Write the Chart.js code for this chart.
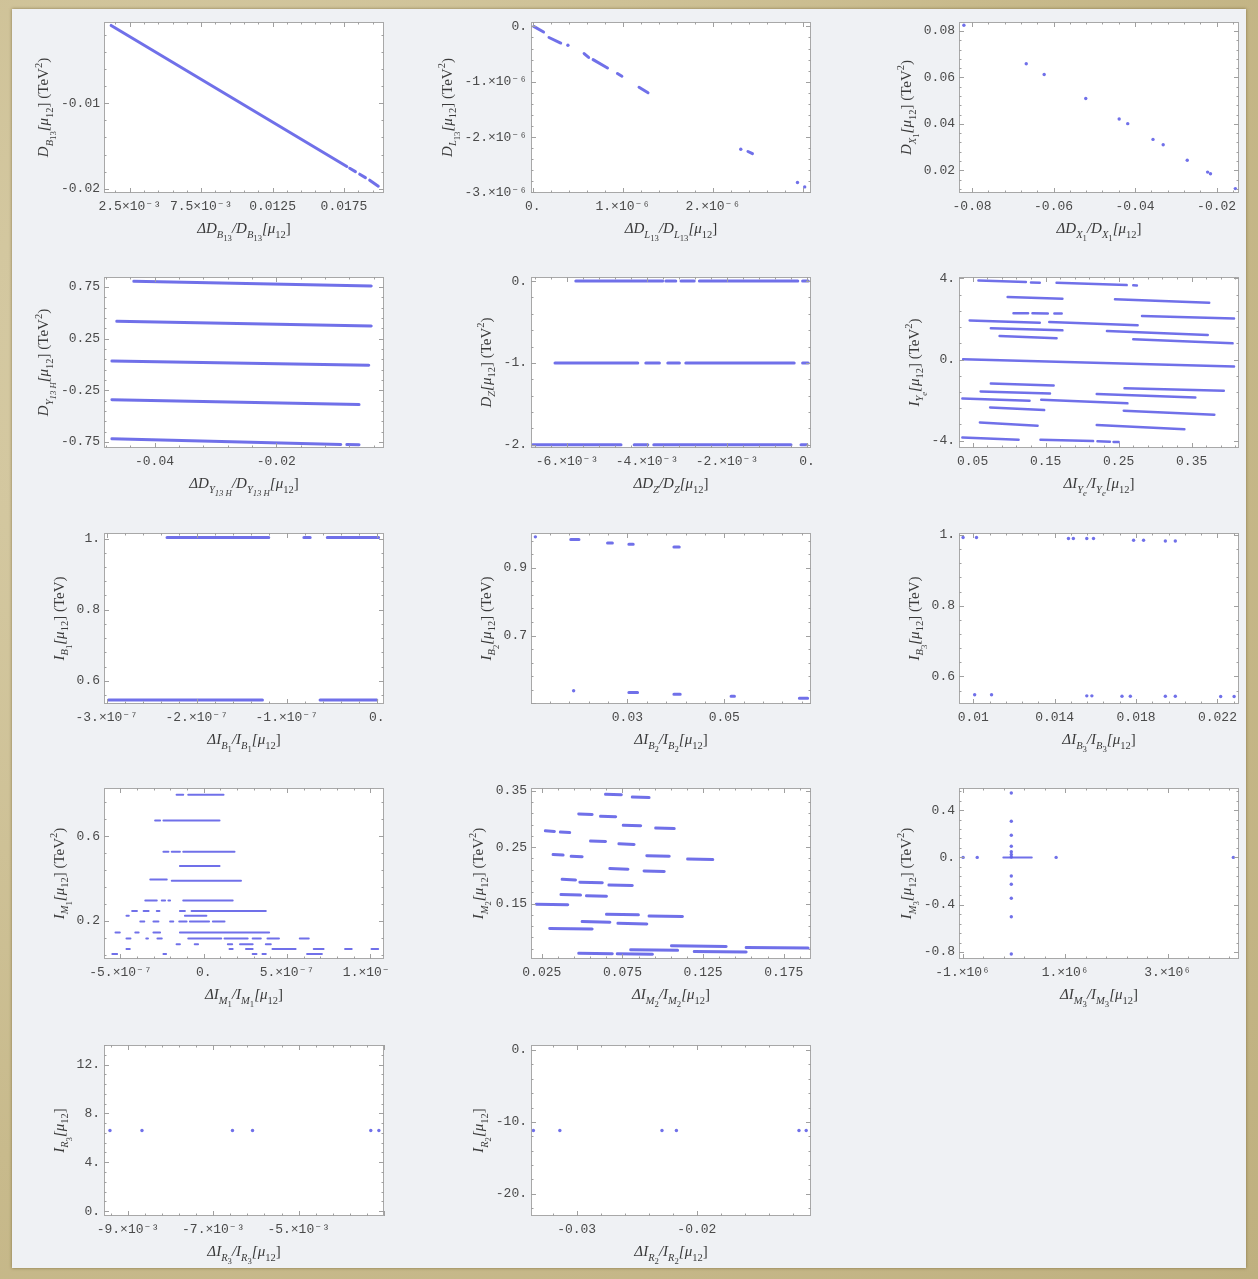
<!DOCTYPE html>
<html>
<head>
<meta charset="utf-8">
<script src="https://cdn.jsdelivr.net/npm/chart.js@4.4.1/dist/chart.umd.min.js"></script>
<style>
html, body { margin: 0; padding: 0; }
body {
    width: 1258px; height: 1279px; position: relative; overflow: hidden;
    background: radial-gradient(circle at 20% 30%, #d9cea9 0%, #c8ba8c 60%, #bfb07f 100%);
}
#sheet {
    position: absolute; left: 12px; top: 9px; width: 1234px; height: 1259px;
    background: #eff1f4;
    box-shadow: 0 0 3px rgba(90, 70, 30, 0.6);
}
canvas.panel { position: absolute; }
</style>
</head>
<body>
<div id="sheet"></div>
<script>
// ---- 数据 ----
// 1: D_B13
const p1XTicks = [0.0025, 0.0075, 0.0125, 0.0175];
const p1XLabels = ['2.5×10⁻³', '7.5×10⁻³', '0.0125', '0.0175'];
const p1YTicks = [-0.01, -0.02];
const p1YLabels = ['-0.01', '-0.02'];
const p1Seg = [[0.0012, -0.0009, 0.0177, -0.0174], [0.0179, -0.0176, 0.0183, -0.0180],
    [0.0186, -0.0183, 0.0190, -0.0187], [0.0193, -0.0190, 0.0199, -0.0197]];
const p1Pts = [];

// 2: D_L13
const p2XTicks = [0, 1e-6, 2e-6];
const p2XLabels = ['0.', '1.×10⁻⁶', '2.×10⁻⁶'];
const p2YTicks = [0, -1e-6, -2e-6, -3e-6];
const p2YLabels = ['0.', '-1.×10⁻⁶', '-2.×10⁻⁶', '-3.×10⁻⁶'];
const p2Seg = [[0.01e-6, 0, 0.12e-6, -0.10e-6], [0.18e-6, -0.20e-6, 0.31e-6, -0.30e-6],
    [0.57e-6, -0.49e-6, 0.62e-6, -0.56e-6], [0.67e-6, -0.60e-6, 0.83e-6, -0.75e-6],
    [0.94e-6, -0.85e-6, 0.99e-6, -0.90e-6], [1.18e-6, -1.10e-6, 1.28e-6, -1.20e-6],
    [2.39e-6, -2.26e-6, 2.44e-6, -2.30e-6]];
const p2Pts = [[0.39e-6, -0.34e-6], [2.31e-6, -2.22e-6], [2.94e-6, -2.82e-6], [3.02e-6, -2.90e-6]];

// 3: D_X1
const p3XTicks = [-0.08, -0.06, -0.04, -0.02];
const p3XLabels = ['-0.08', '-0.06', '-0.04', '-0.02'];
const p3YTicks = [0.02, 0.04, 0.06, 0.08];
const p3YLabels = ['0.02', '0.04', '0.06', '0.08'];
const p3Seg = [];
const p3Pts = [[-0.0820, 0.0825], [-0.0667, 0.0659], [-0.0623, 0.0613], [-0.0521, 0.0509],
    [-0.0439, 0.0421], [-0.0418, 0.0401], [-0.0356, 0.0333], [-0.0331, 0.0310],
    [-0.0272, 0.0243], [-0.0222, 0.0192], [-0.0215, 0.0185], [-0.0154, 0.0121]];

// 4: D_Y13H
const p4XTicks = [-0.04, -0.02];
const p4XLabels = ['-0.04', '-0.02'];
const p4YTicks = [0.75, 0.25, -0.25, -0.75];
const p4YLabels = ['0.75', '0.25', '-0.25', '-0.75'];
const p4Seg = [[-0.0434, 0.805, -0.0044, 0.760], [-0.0462, 0.418, -0.0044, 0.373],
    [-0.0470, 0.034, -0.0048, -0.008], [-0.0470, -0.340, -0.0064, -0.388],
    [-0.0470, -0.718, -0.0094, -0.773], [-0.0084, -0.775, -0.0064, -0.777]];
const p4Pts = [];

// 5: D_Z
const p5XTicks = [-0.006, -0.004, -0.002, 0];
const p5XLabels = ['-6.×10⁻³', '-4.×10⁻³', '-2.×10⁻³', '0.'];
const p5YTicks = [0, -1, -2];
const p5YLabels = ['0.', '-1.', '-2.'];
const p5Seg = [[-0.00578, 0, -0.00361, 0], [-0.00353, 0, -0.00328, 0], [-0.00315, 0, -0.00282, 0],
    [-0.00269, 0, -0.00023, 0], [-0.00011, 0, 0.00003, 0],
    [-0.0063, -1, -0.00423, -1], [-0.00403, -1, -0.00369, -1], [-0.00348, -1, -0.00319, -1],
    [-0.00303, -1, -0.00032, -1], [-0.00011, -1, 0.00003, -1],
    [-0.00686, -2, -0.00465, -2], [-0.00432, -2, -0.00398, -2], [-0.00383, -2, -0.0004, -2],
    [-0.00015, -2, 0, -2]];
const p5Pts = [];

// 6: I_Ye
const p6XTicks = [0.05, 0.15, 0.25, 0.35];
const p6XLabels = ['0.05', '0.15', '0.25', '0.35'];
const p6YTicks = [4, 0, -4];
const p6YLabels = ['4.', '0.', '-4.'];
const p6Seg = [[0.058, 3.90, 0.123, 3.82], [0.130, 3.80, 0.142, 3.79], [0.165, 3.79, 0.261, 3.67],
    [0.270, 3.66, 0.275, 3.65], [0.098, 3.08, 0.173, 3.00], [0.245, 2.97, 0.374, 2.80],
    [0.106, 2.28, 0.126, 2.28], [0.132, 2.28, 0.153, 2.27], [0.162, 2.27, 0.172, 2.27],
    [0.046, 1.93, 0.142, 1.82], [0.155, 1.85, 0.276, 1.69], [0.282, 2.15, 0.408, 2.03],
    [0.075, 1.54, 0.173, 1.44], [0.234, 1.41, 0.372, 1.21], [0.087, 1.16, 0.165, 1.05],
    [0.270, 1.00, 0.406, 0.80], [0.037, 0.02, 0.408, -0.34], [0.075, -1.18, 0.161, -1.28],
    [0.258, -1.41, 0.394, -1.54], [0.061, -1.57, 0.156, -1.67], [0.220, -1.70, 0.355, -1.87],
    [0.036, -1.92, 0.128, -2.03], [0.144, -1.98, 0.262, -2.16], [0.074, -2.36, 0.148, -2.49],
    [0.257, -2.52, 0.381, -2.72], [0.060, -3.10, 0.139, -3.26], [0.220, -3.23, 0.340, -3.43],
    [0.036, -3.84, 0.113, -3.95], [0.143, -3.95, 0.215, -4.02], [0.221, -4.03, 0.238, -4.05],
    [0.243, -4.06, 0.250, -4.07]];
const p6Pts = [];

// 7: I_B1
const p7XTicks = [-3e-7, -2e-7, -1e-7, 0];
const p7XLabels = ['-3.×10⁻⁷', '-2.×10⁻⁷', '-1.×10⁻⁷', '0.'];
const p7YTicks = [1, 0.8, 0.6];
const p7YLabels = ['1.', '0.8', '0.6'];
const p7Seg = [[-2.33e-7, 1.003, -1.2e-7, 1.003], [-0.81e-7, 1.003, -0.74e-7, 1.003],
    [-0.55e-7, 1.003, 0.02e-7, 1.003], [-2.98e-7, 0.546, -1.27e-7, 0.546],
    [-0.63e-7, 0.546, 0, 0.546]];
const p7Pts = [];

// 8: I_B2
const p8XTicks = [0.03, 0.05];
const p8XLabels = ['0.03', '0.05'];
const p8YTicks = [0.9, 0.7];
const p8YLabels = ['0.9', '0.7'];
const p8Seg = [[0.0183, 0.983, 0.0200, 0.983], [0.0259, 0.973, 0.0269, 0.973],
    [0.0303, 0.969, 0.0312, 0.969], [0.0396, 0.961, 0.0407, 0.961],
    [0.0303, 0.532, 0.0321, 0.532], [0.0396, 0.527, 0.0409, 0.527],
    [0.0514, 0.521, 0.0521, 0.521], [0.0655, 0.515, 0.0672, 0.515]];
const p8Pts = [[0.0110, 0.991], [0.0189, 0.537]];

// 9: I_B3
const p9XTicks = [0.01, 0.014, 0.018, 0.022];
const p9XLabels = ['0.01', '0.014', '0.018', '0.022'];
const p9YTicks = [1, 0.8, 0.6];
const p9YLabels = ['1.', '0.8', '0.6'];
const p9Seg = [];
const p9Pts = [[0.00950, 0.993], [0.01016, 0.993], [0.01468, 0.990], [0.01492, 0.990],
    [0.01558, 0.990], [0.01591, 0.990], [0.01788, 0.985], [0.01837, 0.985],
    [0.01944, 0.983], [0.01993, 0.983],
    [0.01007, 0.548], [0.01090, 0.548], [0.01558, 0.545], [0.01583, 0.545],
    [0.01731, 0.544], [0.01772, 0.544], [0.01944, 0.544], [0.01993, 0.544],
    [0.02216, 0.543], [0.02282, 0.543]];

// 10: I_M1
const p10XTicks = [-5e-7, 0, 5e-7, 1e-6];
const p10XLabels = ['-5.×10⁻⁷', '0.', '5.×10⁻⁷', '1.×10⁻⁶'];
const p10YTicks = [0.6, 0.2];
const p10YLabels = ['0.6', '0.2'];
const p10Seg = [
    [-0.163e-6, 0.796, -0.123e-6, 0.796], [-0.093e-6, 0.796, 0.119e-6, 0.796],
    [-0.292e-6, 0.674, -0.262e-6, 0.674], [-0.242e-6, 0.674, 0.095e-6, 0.674],
    [-0.242e-6, 0.527, -0.212e-6, 0.527], [-0.192e-6, 0.527, -0.143e-6, 0.527], [-0.123e-6, 0.527, 0.185e-6, 0.527],
    [-0.143e-6, 0.459, 0.095e-6, 0.459],
    [-0.321e-6, 0.396, -0.222e-6, 0.396], [-0.192e-6, 0.390, 0.224e-6, 0.390],
    [-0.351e-6, 0.297, -0.282e-6, 0.297], [-0.252e-6, 0.297, -0.232e-6, 0.297],
    [-0.212e-6, 0.297, -0.202e-6, 0.297], [-0.123e-6, 0.297, 0.174e-6, 0.297],
    [-0.430e-6, 0.247, -0.401e-6, 0.247], [-0.361e-6, 0.247, -0.331e-6, 0.247],
    [-0.282e-6, 0.247, -0.266e-6, 0.247], [-0.143e-6, 0.247, -0.113e-6, 0.247],
    [-0.073e-6, 0.247, 0.373e-6, 0.247],
    [-0.464e-6, 0.224, -0.450e-6, 0.224], [-0.113e-6, 0.224, 0.016e-6, 0.224],
    [-0.381e-6, 0.197, -0.357e-6, 0.197], [-0.302e-6, 0.197, -0.272e-6, 0.197],
    [-0.202e-6, 0.197, -0.183e-6, 0.197], [-0.147e-6, 0.197, -0.103e-6, 0.197],
    [-0.083e-6, 0.197, 0.032e-6, 0.197], [0.055e-6, 0.197, 0.125e-6, 0.197],
    [-0.530e-6, 0.145, -0.504e-6, 0.145], [-0.411e-6, 0.145, -0.391e-6, 0.145],
    [-0.302e-6, 0.145, -0.262e-6, 0.145], [-0.143e-6, 0.145, 0.393e-6, 0.145],
    [-0.464e-6, 0.117, -0.440e-6, 0.117], [-0.345e-6, 0.117, -0.335e-6, 0.117],
    [-0.278e-6, 0.117, -0.252e-6, 0.117], [-0.093e-6, 0.117, 0.105e-6, 0.117],
    [0.125e-6, 0.117, 0.264e-6, 0.117], [0.294e-6, 0.117, 0.343e-6, 0.117],
    [0.383e-6, 0.117, 0.452e-6, 0.117], [0.577e-6, 0.117, 0.631e-6, 0.117],
    [-0.163e-6, 0.090, -0.143e-6, 0.090], [-0.054e-6, 0.090, -0.034e-6, 0.090],
    [0.145e-6, 0.090, 0.171e-6, 0.090], [0.218e-6, 0.090, 0.294e-6, 0.090],
    [0.373e-6, 0.090, 0.403e-6, 0.090],
    [-0.464e-6, 0.067, -0.444e-6, 0.067], [0.155e-6, 0.067, 0.174e-6, 0.067],
    [0.254e-6, 0.067, 0.294e-6, 0.067], [0.413e-6, 0.067, 0.552e-6, 0.067],
    [0.661e-6, 0.067, 0.720e-6, 0.067], [0.849e-6, 0.067, 0.889e-6, 0.067],
    [1.008e-6, 0.067, 1.048e-6, 0.067],
    [-0.549e-6, 0.044, -0.520e-6, 0.044], [-0.242e-6, 0.044, -0.226e-6, 0.044],
    [0.294e-6, 0.044, 0.317e-6, 0.044], [0.353e-6, 0.044, 0.373e-6, 0.044],
    [0.621e-6, 0.044, 0.710e-6, 0.044]];
const p10Pts = [];

// 11: I_M2
const p11XTicks = [0.025, 0.075, 0.125, 0.175];
const p11XLabels = ['0.025', '0.075', '0.125', '0.175'];
const p11YTicks = [0.35, 0.25, 0.15];
const p11YLabels = ['0.35', '0.25', '0.15'];
const p11Seg = [[0.0645, 0.344, 0.0743, 0.343], [0.0811, 0.339, 0.0915, 0.338],
    [0.0479, 0.309, 0.0562, 0.308], [0.0614, 0.305, 0.0708, 0.304],
    [0.0755, 0.289, 0.0863, 0.288], [0.0956, 0.284, 0.1071, 0.283],
    [0.0272, 0.279, 0.0328, 0.278], [0.0365, 0.277, 0.0423, 0.276],
    [0.0552, 0.261, 0.0645, 0.260], [0.0728, 0.256, 0.0822, 0.255],
    [0.0320, 0.237, 0.0382, 0.236], [0.0432, 0.234, 0.0500, 0.233],
    [0.0901, 0.235, 0.1040, 0.234], [0.1154, 0.229, 0.1310, 0.228],
    [0.0672, 0.212, 0.0784, 0.211], [0.0884, 0.208, 0.1009, 0.207],
    [0.0376, 0.193, 0.0459, 0.192], [0.0486, 0.188, 0.0625, 0.187],
    [0.0666, 0.183, 0.0811, 0.182], [0.0369, 0.166, 0.0490, 0.165],
    [0.0527, 0.164, 0.0651, 0.163], [0.0216, 0.149, 0.0411, 0.148],
    [0.0651, 0.131, 0.0849, 0.130], [0.0915, 0.128, 0.1122, 0.127],
    [0.0500, 0.118, 0.0672, 0.117], [0.0722, 0.115, 0.0901, 0.114],
    [0.0299, 0.106, 0.0562, 0.105], [0.1054, 0.075, 0.1393, 0.074],
    [0.1517, 0.072, 0.1901, 0.071], [0.0801, 0.068, 0.1092, 0.067],
    [0.1195, 0.065, 0.1517, 0.064], [0.0479, 0.062, 0.0687, 0.061],
    [0.0718, 0.061, 0.0936, 0.060]];
const p11Pts = [];

// 12: I_M3
const p12XTicks = [-1e6, 1e6, 3e6];
const p12XLabels = ['-1.×10⁶', '1.×10⁶', '3.×10⁶'];
const p12YTicks = [0.4, 0, -0.4, -0.8];
const p12YLabels = ['0.4', '0.', '-0.4', '-0.8'];
const p12Seg = [[-0.206e6, 0, 0.349e6, 0]];
const p12Pts = [[-0.05e6, 0.545], [-0.05e6, 0.306], [-0.05e6, 0.188], [-0.05e6, 0.095],
    [-0.05e6, 0.048], [-0.05e6, 0.025], [-0.05e6, 0.003], [-0.05e6, -0.157],
    [-0.05e6, -0.227], [-0.05e6, -0.345], [-0.05e6, -0.502], [-0.05e6, -0.817],
    [-0.99e6, 0], [-0.715e6, 0], [0.824e6, 0], [4.28e6, 0]];

// 13: I_R3
const p13XTicks = [-0.009, -0.007, -0.005];
const p13XLabels = ['-9.×10⁻³', '-7.×10⁻³', '-5.×10⁻³'];
const p13YTicks = [12, 8, 4, 0];
const p13YLabels = ['12.', '8.', '4.', '0.'];
const p13Seg = [];
const p13Pts = [[-0.00942, 6.6], [-0.00867, 6.6], [-0.00655, 6.6], [-0.00608, 6.6],
    [-0.00331, 6.6], [-0.00312, 6.6]];

// 14: I_R2
const p14XTicks = [-0.03, -0.02];
const p14XLabels = ['-0.03', '-0.02'];
const p14YTicks = [0, -10, -20];
const p14YLabels = ['0.', '-10.', '-20.'];
const p14Seg = [];
const p14Pts = [[-0.0336, -11.2], [-0.0314, -11.2], [-0.0229, -11.2], [-0.0217, -11.2],
    [-0.0115, -11.2], [-0.0109, -11.2]];

// ---- 版面 ----
const COLS = [104, 531, 959];
const ROWS = [22, 277, 533, 788, 1045];
const PLOT_W = 280, PLOT_H = 171;
const Y_W = 112, X_H = 52, PAD_T = 8, PAD_R = 6;
const BLUE = 'rgba(92, 92, 230, 0.88)';
const TICK_FONT = { family: '"Liberation Mono", "DejaVu Sans Mono", monospace', size: 13 };
const TITLE_FAMILY = '"Liberation Serif", "DejaVu Serif", serif';

const panels = [
    { r: 0, c: 0, seg: p1Seg, pts: p1Pts, xt: p1XTicks, xl: p1XLabels, yt: p1YTicks, yl: p1YLabels,
      xr: [0.0007, 0.0203], yr: [-0.0205, -0.0005], lw: 3,
      yTitle: 'D_{B_{13}}[μ_{12}] (TeV^{2})', xTitle: 'ΔD_{B_{13}}/D_{B_{13}}[μ_{12}]' },
    { r: 0, c: 1, seg: p2Seg, pts: p2Pts, xt: p2XTicks, xl: p2XLabels, yt: p2YTicks, yl: p2YLabels,
      xr: [-0.02e-6, 3.09e-6], yr: [-3.01e-6, 0.08e-6], lw: 3,
      yTitle: 'D_{L_{13}}[μ_{12}] (TeV^{2})', xTitle: 'ΔD_{L_{13}}/D_{L_{13}}[μ_{12}]' },
    { r: 0, c: 2, seg: p3Seg, pts: p3Pts, xt: p3XTicks, xl: p3XLabels, yt: p3YTicks, yl: p3YLabels,
      xr: [-0.0832, -0.0145], yr: [0.0102, 0.0839], lw: 3,
      yTitle: 'D_{X_{1}}[μ_{12}] (TeV^{2})', xTitle: 'ΔD_{X_{1}}/D_{X_{1}}[μ_{12}]' },
    { r: 1, c: 0, seg: p4Seg, pts: p4Pts, xt: p4XTicks, xl: p4XLabels, yt: p4YTicks, yl: p4YLabels,
      xr: [-0.0483, -0.0023], yr: [-0.808, 0.847], lw: 3,
      yTitle: 'D_{Y_{13 H}}[μ_{12}] (TeV^{2})', xTitle: 'ΔD_{Y_{13 H}}/D_{Y_{13 H}}[μ_{12}]' },
    { r: 1, c: 1, seg: p5Seg, pts: p5Pts, xt: p5XTicks, xl: p5XLabels, yt: p5YTicks, yl: p5YLabels,
      xr: [-0.0069, 0.0001], yr: [-2.04, 0.05], lw: 3,
      yTitle: 'D_{Z}[μ_{12}] (TeV^{2})', xTitle: 'ΔD_{Z}/D_{Z}[μ_{12}]' },
    { r: 1, c: 2, seg: p6Seg, pts: p6Pts, xt: p6XTicks, xl: p6XLabels, yt: p6YTicks, yl: p6YLabels,
      xr: [0.0314, 0.4148], yr: [-4.36, 4.07], lw: 2.5,
      yTitle: 'I_{Y_{e}}[μ_{12}] (TeV^{2})', xTitle: 'ΔI_{Y_{e}}/I_{Y_{e}}[μ_{12}]' },
    { r: 2, c: 0, seg: p7Seg, pts: p7Pts, xt: p7XTicks, xl: p7XLabels, yt: p7YTicks, yl: p7YLabels,
      xr: [-3.03e-7, 0.08e-7], yr: [0.535, 1.0156], lw: 3,
      yTitle: 'I_{B_{1}}[μ_{12}] (TeV)', xTitle: 'ΔI_{B_{1}}/I_{B_{1}}[μ_{12}]' },
    { r: 2, c: 1, seg: p8Seg, pts: p8Pts, xt: p8XTicks, xl: p8XLabels, yt: p8YTicks, yl: p8YLabels,
      xr: [0.0101, 0.0679], yr: [0.498, 1.0024], lw: 3,
      yTitle: 'I_{B_{2}}[μ_{12}] (TeV)', xTitle: 'ΔI_{B_{2}}/I_{B_{2}}[μ_{12}]' },
    { r: 2, c: 2, seg: p9Seg, pts: p9Pts, xt: p9XTicks, xl: p9XLabels, yt: p9YTicks, yl: p9YLabels,
      xr: [0.0093, 0.02306], yr: [0.522, 1.0056], lw: 3,
      yTitle: 'I_{B_{3}}[μ_{12}] (TeV)', xTitle: 'ΔI_{B_{3}}/I_{B_{3}}[μ_{12}]' },
    { r: 3, c: 0, seg: p10Seg, pts: p10Pts, xt: p10XTicks, xl: p10XLabels, yt: p10YTicks, yl: p10YLabels,
      xr: [-0.599e-6, 1.083e-6], yr: [0.020, 0.828], lw: 2,
      yTitle: 'I_{M_{1}}[μ_{12}] (TeV^{2})', xTitle: 'ΔI_{M_{1}}/I_{M_{1}}[μ_{12}]' },
    { r: 3, c: 1, seg: p11Seg, pts: p11Pts, xt: p11XTicks, xl: p11XLabels, yt: p11YTicks, yl: p11YLabels,
      xr: [0.0183, 0.1919], yr: [0.0517, 0.355], lw: 3,
      yTitle: 'I_{M_{2}}[μ_{12}] (TeV^{2})', xTitle: 'ΔI_{M_{2}}/I_{M_{2}}[μ_{12}]' },
    { r: 3, c: 2, seg: p12Seg, pts: p12Pts, xt: p12XTicks, xl: p12XLabels, yt: p12YTicks, yl: p12YLabels,
      xr: [-1.07e6, 4.39e6], yr: [-0.859, 0.587], lw: 2,
      yTitle: 'I_{M_{3}}[μ_{12}] (TeV^{2})', xTitle: 'ΔI_{M_{3}}/I_{M_{3}}[μ_{12}]' },
    { r: 4, c: 0, seg: p13Seg, pts: p13Pts, xt: p13XTicks, xl: p13XLabels, yt: p13YTicks, yl: p13YLabels,
      xr: [-0.00956, -0.0030], yr: [-0.4, 13.6], lw: 3,
      yTitle: 'I_{R_{3}}[μ_{12}]', xTitle: 'ΔI_{R_{3}}/I_{R_{3}}[μ_{12}]' },
    { r: 4, c: 1, seg: p14Seg, pts: p14Pts, xt: p14XTicks, xl: p14XLabels, yt: p14YTicks, yl: p14YLabels,
      xr: [-0.0338, -0.0105], yr: [-23.1, 0.7], lw: 3,
      yTitle: 'I_{R_{2}}[μ_{12}]', xTitle: 'ΔI_{R_{2}}/I_{R_{2}}[μ_{12}]' }
];

// ---- 带上下标的标题 ----
const LEVEL_SCALE = [1, 0.7, 0.58];

function richRuns(s, lvl, shift, out) {
    let i = 0, buf = '';
    const flush = () => { if (buf) { out.push({ t: buf, lvl: lvl, shift: shift }); buf = ''; } };
    const size = LEVEL_SCALE[Math.min(lvl, 2)];
    while (i < s.length) {
        const ch = s[i];
        if (ch === '_' || ch === '^') {
            flush();
            let inner;
            if (s[i + 1] === '{') {
                let depth = 0, j = i + 1;
                for (; j < s.length; j++) {
                    if (s[j] === '{') depth++;
                    else if (s[j] === '}') { depth--; if (depth === 0) break; }
                }
                inner = s.slice(i + 2, j);
                i = j + 1;
            } else {
                inner = s[i + 1];
                i += 2;
            }
            const d = ch === '_' ? size * 0.32 : -size * 0.42;
            richRuns(inner, lvl + 1, shift + d, out);
        } else {
            buf += ch;
            i++;
        }
    }
    flush();
}

function drawRich(ctx, s, x, y, size, rotate) {
    const runs = [];
    richRuns(s, 0, 0, runs);
    let total = 0;
    runs.forEach(r => {
        r.size = size * LEVEL_SCALE[Math.min(r.lvl, 2)];
        const it = /[A-Za-zμ]/.test(r.t) && !/TeV/.test(r.t);
        r.font = (it ? 'italic ' : '') + r.size + 'px ' + TITLE_FAMILY;
        ctx.font = r.font;
        r.w = ctx.measureText(r.t).width;
        total += r.w;
    });
    ctx.save();
    ctx.translate(x, y);
    if (rotate) ctx.rotate(-Math.PI / 2);
    ctx.fillStyle = '#3a3a3a';
    ctx.textBaseline = 'alphabetic';
    let cx = -total / 2;
    runs.forEach(r => {
        ctx.font = r.font;
        ctx.fillText(r.t, cx, size * 0.33 + r.shift * size);
        cx += r.w;
    });
    ctx.restore();
}

// ---- 边框、刻度、标题 ----
function drawTicks(ctx, s, a, horiz) {
    const v = s.ticks.map(t => t.value);
    const step = Math.abs(v[1] - v[0]) / 5;
    const k0 = Math.ceil((s.min - v[0]) / step - 1e-6);
    const k1 = Math.floor((s.max - v[0]) / step + 1e-6);
    ctx.beginPath();
    for (let k = k0; k <= k1; k++) {
        const p = Math.round(s.getPixelForValue(v[0] + k * step)) + 0.5;
        const len = (k % 5 === 0) ? 5 : 2.5;
        if (horiz) {
            ctx.moveTo(p, a.bottom); ctx.lineTo(p, a.bottom - len);
            ctx.moveTo(p, a.top); ctx.lineTo(p, a.top + len);
        } else {
            ctx.moveTo(a.left, p); ctx.lineTo(a.left + len, p);
            ctx.moveTo(a.right, p); ctx.lineTo(a.right - len, p);
        }
    }
    ctx.stroke();
}

const framePlugin = {
    id: 'mmaFrame',
    beforeDatasetsDraw(chart) {
        const { ctx, chartArea: a } = chart;
        ctx.save();
        ctx.fillStyle = '#ffffff';
        ctx.fillRect(a.left, a.top, a.width, a.height);
        ctx.restore();
    },
    afterDraw(chart) {
        const { ctx, chartArea: a } = chart;
        const p = chart.options.plugins.mmaFrame;
        ctx.save();
        ctx.strokeStyle = '#a8a8a8';
        ctx.lineWidth = 1;
        ctx.strokeRect(Math.round(a.left) + 0.5, Math.round(a.top) + 0.5,
            Math.round(a.width) - 1, Math.round(a.height) - 1);
        ctx.strokeStyle = '#a0a0a0';
        drawTicks(ctx, chart.scales.x, a, true);
        drawTicks(ctx, chart.scales.y, a, false);

        // 轴标题
        ctx.font = TICK_FONT.size + 'px ' + TICK_FONT.family;
        const maxW = Math.max(...p.yl.map(t => ctx.measureText(t).width));
        drawRich(ctx, p.yTitle, a.left - 4 - maxW - 18, (a.top + a.bottom) / 2, 15, true);
        drawRich(ctx, p.xTitle, (a.left + a.right) / 2, a.bottom + 35, 15, false);
        ctx.restore();
    }
};

function segData(seg) {
    const out = [];
    seg.forEach(s => {
        out.push({ x: s[0], y: s[1] }, { x: s[2], y: s[3] }, { x: s[2], y: null });
    });
    return out;
}

function makePanel(p) {
    const canvas = document.createElement('canvas');
    canvas.className = 'panel';
    const W = Y_W + PLOT_W + PAD_R, H = PAD_T + PLOT_H + X_H;
    canvas.width = W; canvas.height = H;
    canvas.style.width = W + 'px'; canvas.style.height = H + 'px';
    canvas.style.left = (COLS[p.c] - Y_W) + 'px';
    canvas.style.top = (ROWS[p.r] - PAD_T) + 'px';
    document.body.appendChild(canvas);

    new Chart(canvas, {
        type: 'scatter',
        data: {
            datasets: [{
                data: segData(p.seg),
                showLine: true,
                spanGaps: false,
                pointRadius: 0,
                borderColor: BLUE,
                borderWidth: p.lw,
                borderCapStyle: 'round'
            }, {
                data: p.pts.map(q => ({ x: q[0], y: q[1] })),
                showLine: false,
                pointRadius: 1.7,
                pointBorderWidth: 0,
                backgroundColor: BLUE
            }]
        },
        options: {
            responsive: false,
            animation: false,
            devicePixelRatio: 1,
            layout: { autoPadding: false, padding: { top: PAD_T, right: PAD_R, left: 0, bottom: 0 } },
            plugins: {
                legend: { display: false },
                tooltip: { enabled: false },
                mmaFrame: p
            },
            scales: {
                x: {
                    type: 'linear',
                    min: p.xr[0], max: p.xr[1],
                    grid: { display: false, drawTicks: false },
                    border: { display: false },
                    afterBuildTicks: ax => { ax.ticks = p.xt.map(v => ({ value: v })); },
                    afterFit: ax => { ax.height = X_H; ax.paddingLeft = 0; ax.paddingRight = 0; },
                    ticks: {
                        autoSkip: false, maxRotation: 0, minRotation: 0, padding: 6,
                        font: TICK_FONT, color: '#4a4a4a',
                        callback: (v, i) => p.xl[i]
                    }
                },
                y: {
                    type: 'linear',
                    min: p.yr[0], max: p.yr[1],
                    grid: { display: false, drawTicks: false },
                    border: { display: false },
                    afterBuildTicks: ax => { ax.ticks = p.yt.map(v => ({ value: v })); },
                    afterFit: ax => { ax.width = Y_W; ax.paddingTop = 0; ax.paddingBottom = 0; },
                    ticks: {
                        autoSkip: false, padding: 4,
                        font: TICK_FONT, color: '#4a4a4a',
                        callback: (v, i) => p.yl[i]
                    }
                }
            }
        },
        plugins: [framePlugin]
    });
}

panels.forEach(makePanel);
</script>
</body>
</html>
